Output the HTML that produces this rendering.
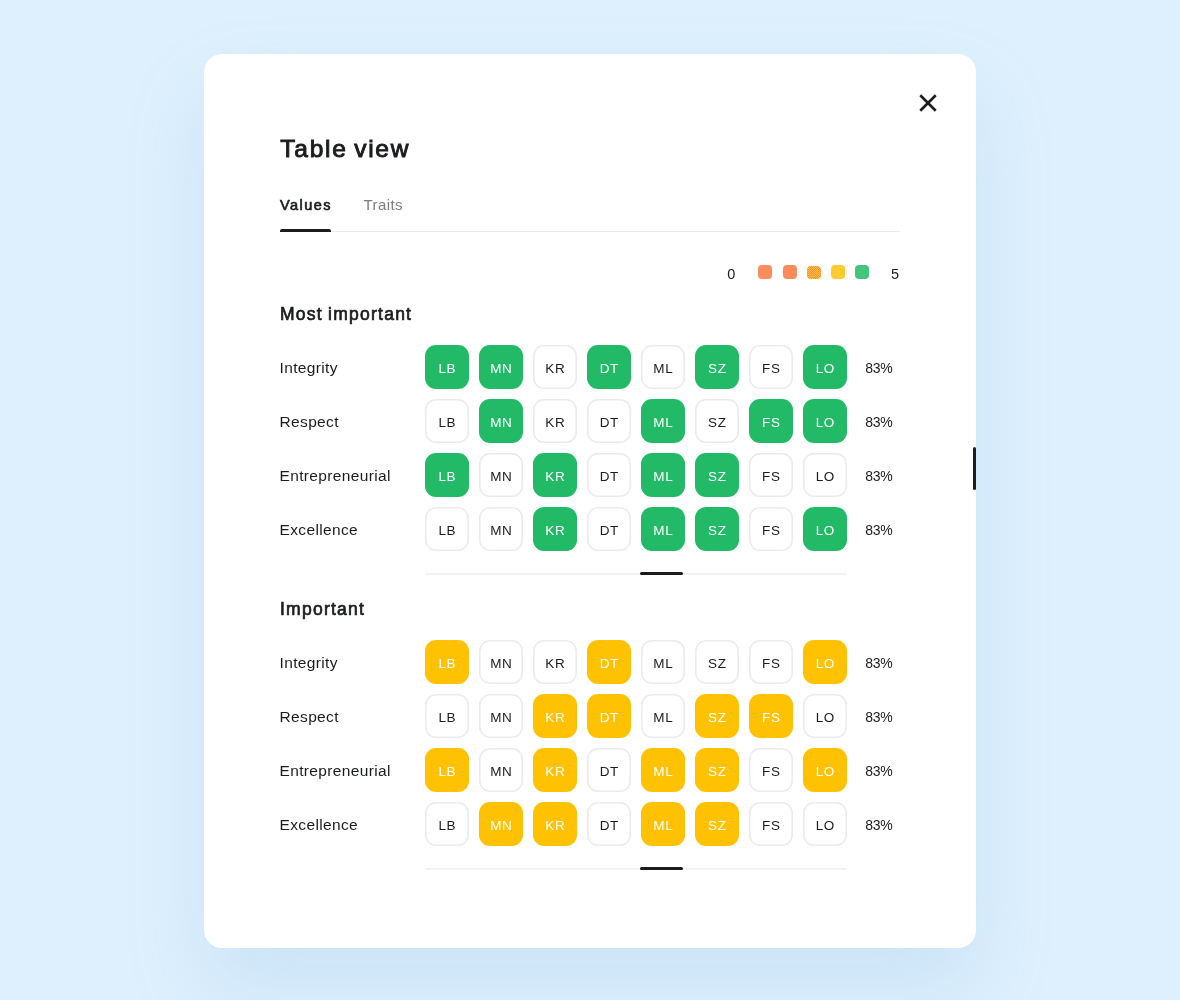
<!DOCTYPE html>
<html><head><meta charset="utf-8"><title>Table view</title>
<style>
*{box-sizing:border-box;margin:0;padding:0}
html,body{width:1180px;height:1000px;overflow:hidden}
body{background:#def0fd;font-family:"Liberation Sans",sans-serif;color:#1b1c1e;position:relative}
.card{position:absolute;left:204px;top:54px;width:772px;height:894px;background:#fff;border-radius:18px;box-shadow:0 40px 80px rgba(104,165,222,.17)}
.abs,.h1,.h2,.lbl,.cell,.pct,.sline,.sthumb,.tab,.lg,.sq{position:absolute}
.h1{left:280.3px;top:130.5px;font-size:24.5px;font-weight:400;-webkit-text-stroke:.95px #1b1c1e;line-height:36px;letter-spacing:1.75px;word-spacing:-2px;white-space:nowrap}
.tab{top:194.7px;font-size:15px;line-height:20px;white-space:nowrap}
.tab.a{left:280px;font-size:14.5px;font-weight:400;-webkit-text-stroke:.65px #1b1c1e;letter-spacing:1.45px}
.tab.b{left:363.5px;top:194.5px;color:#7d7d7d;letter-spacing:.4px}
.tline{position:absolute;left:280px;top:231px;width:620px;height:1px;background:#ebebeb}
.tund{position:absolute;left:280px;top:229px;width:51px;height:3px;background:#1b1c1e;border-radius:2px 2px 0 0}
.h2{left:280px;font-size:17.5px;font-weight:400;-webkit-text-stroke:.7px #1b1c1e;line-height:24px;white-space:nowrap;letter-spacing:1.25px;word-spacing:-1px}
.lbl{left:279.5px;font-size:15.5px;line-height:24px;white-space:nowrap;letter-spacing:.36px}
.cell{width:44px;height:44px;border-radius:11px;font-size:13.5px;line-height:47.2px;text-align:center;letter-spacing:.55px;padding:0 0 0 .55px}
.cell.off{box-shadow:inset 0 0 0 1.6px #ebebeb;color:#1b1c1e;background:#fff}
.cell.g{background:#22ba67;color:#fff}
.cell.y{background:#ffc203;color:#fff}
.pct{left:865.3px;font-size:14px;line-height:24px;letter-spacing:-.3px}
.sline{left:425px;width:422px;height:2px;background:#f2f2f2}
.sthumb{left:640px;width:43px;height:3px;background:#1b1c1e;border-radius:2px}
.lg{top:264.7px;font-size:14.5px;line-height:18px}
.sq{top:265px;width:14px;height:14px;border-radius:4px}
.vbar{position:absolute;left:973.2px;top:447px;width:3px;height:43px;background:#1b1c1e;border-radius:1.5px}
.wrap{position:absolute;left:0;top:0;width:1180px;height:1000px;will-change:transform}
</style></head><body>
<div class="card"></div>
<div class="wrap">
<svg class="abs" style="left:917.6px;top:92.6px" width="20" height="20" viewBox="0 0 20 20"><path d="M2.27 2.27 L17.73 17.73 M17.73 2.27 L2.27 17.73" stroke="#1b1c1e" stroke-width="2.6" stroke-linecap="butt" fill="none"/></svg>
<div class="h1">Table view</div>
<div class="tab a">Values</div><div class="tab b">Traits</div>
<div class="tline"></div><div class="tund"></div>
<div class="lg" style="left:727.3px">0</div>
<div class="sq" style="left:758px;background:#fa8c5c"></div>
<div class="sq" style="left:782.5px;background:#fa8c5c"></div>
<div class="sq" style="left:807px;top:265.5px;width:13.5px;height:13.5px;background-color:#fa8a52;background-image:conic-gradient(#ffc820 25%,#fa8a52 0 50%,#ffc820 0 75%,#fa8a52 0);background-size:2px 2px"></div>
<div class="sq" style="left:831px;background:#ffcb30"></div>
<div class="sq" style="left:855px;background:#45c47e"></div>
<div class="lg" style="left:890.9px">5</div>
<div class="h2" style="top:302px">Most important</div>
<div class="lbl" style="top:356.3px">Integrity</div>
<div class="cell g" style="left:425px;top:345px">LB</div>
<div class="cell g" style="left:479px;top:345px">MN</div>
<div class="cell off" style="left:533px;top:345px">KR</div>
<div class="cell g" style="left:587px;top:345px">DT</div>
<div class="cell off" style="left:641px;top:345px">ML</div>
<div class="cell g" style="left:695px;top:345px">SZ</div>
<div class="cell off" style="left:749px;top:345px">FS</div>
<div class="cell g" style="left:803px;top:345px">LO</div>
<div class="pct" style="top:356px">83%</div>
<div class="lbl" style="top:410.3px">Respect</div>
<div class="cell off" style="left:425px;top:399px">LB</div>
<div class="cell g" style="left:479px;top:399px">MN</div>
<div class="cell off" style="left:533px;top:399px">KR</div>
<div class="cell off" style="left:587px;top:399px">DT</div>
<div class="cell g" style="left:641px;top:399px">ML</div>
<div class="cell off" style="left:695px;top:399px">SZ</div>
<div class="cell g" style="left:749px;top:399px">FS</div>
<div class="cell g" style="left:803px;top:399px">LO</div>
<div class="pct" style="top:410px">83%</div>
<div class="lbl" style="top:464.3px">Entrepreneurial</div>
<div class="cell g" style="left:425px;top:453px">LB</div>
<div class="cell off" style="left:479px;top:453px">MN</div>
<div class="cell g" style="left:533px;top:453px">KR</div>
<div class="cell off" style="left:587px;top:453px">DT</div>
<div class="cell g" style="left:641px;top:453px">ML</div>
<div class="cell g" style="left:695px;top:453px">SZ</div>
<div class="cell off" style="left:749px;top:453px">FS</div>
<div class="cell off" style="left:803px;top:453px">LO</div>
<div class="pct" style="top:464px">83%</div>
<div class="lbl" style="top:518.3px">Excellence</div>
<div class="cell off" style="left:425px;top:507px">LB</div>
<div class="cell off" style="left:479px;top:507px">MN</div>
<div class="cell g" style="left:533px;top:507px">KR</div>
<div class="cell off" style="left:587px;top:507px">DT</div>
<div class="cell g" style="left:641px;top:507px">ML</div>
<div class="cell g" style="left:695px;top:507px">SZ</div>
<div class="cell off" style="left:749px;top:507px">FS</div>
<div class="cell g" style="left:803px;top:507px">LO</div>
<div class="pct" style="top:518px">83%</div>
<div class="sline" style="top:572.5px"></div><div class="sthumb" style="top:572.0px"></div>
<div class="h2" style="top:597px">Important</div>
<div class="lbl" style="top:651.3px">Integrity</div>
<div class="cell y" style="left:425px;top:640px">LB</div>
<div class="cell off" style="left:479px;top:640px">MN</div>
<div class="cell off" style="left:533px;top:640px">KR</div>
<div class="cell y" style="left:587px;top:640px">DT</div>
<div class="cell off" style="left:641px;top:640px">ML</div>
<div class="cell off" style="left:695px;top:640px">SZ</div>
<div class="cell off" style="left:749px;top:640px">FS</div>
<div class="cell y" style="left:803px;top:640px">LO</div>
<div class="pct" style="top:651px">83%</div>
<div class="lbl" style="top:705.3px">Respect</div>
<div class="cell off" style="left:425px;top:694px">LB</div>
<div class="cell off" style="left:479px;top:694px">MN</div>
<div class="cell y" style="left:533px;top:694px">KR</div>
<div class="cell y" style="left:587px;top:694px">DT</div>
<div class="cell off" style="left:641px;top:694px">ML</div>
<div class="cell y" style="left:695px;top:694px">SZ</div>
<div class="cell y" style="left:749px;top:694px">FS</div>
<div class="cell off" style="left:803px;top:694px">LO</div>
<div class="pct" style="top:705px">83%</div>
<div class="lbl" style="top:759.3px">Entrepreneurial</div>
<div class="cell y" style="left:425px;top:748px">LB</div>
<div class="cell off" style="left:479px;top:748px">MN</div>
<div class="cell y" style="left:533px;top:748px">KR</div>
<div class="cell off" style="left:587px;top:748px">DT</div>
<div class="cell y" style="left:641px;top:748px">ML</div>
<div class="cell y" style="left:695px;top:748px">SZ</div>
<div class="cell off" style="left:749px;top:748px">FS</div>
<div class="cell y" style="left:803px;top:748px">LO</div>
<div class="pct" style="top:759px">83%</div>
<div class="lbl" style="top:813.3px">Excellence</div>
<div class="cell off" style="left:425px;top:802px">LB</div>
<div class="cell y" style="left:479px;top:802px">MN</div>
<div class="cell y" style="left:533px;top:802px">KR</div>
<div class="cell off" style="left:587px;top:802px">DT</div>
<div class="cell y" style="left:641px;top:802px">ML</div>
<div class="cell y" style="left:695px;top:802px">SZ</div>
<div class="cell off" style="left:749px;top:802px">FS</div>
<div class="cell off" style="left:803px;top:802px">LO</div>
<div class="pct" style="top:813px">83%</div>
<div class="sline" style="top:867.5px"></div><div class="sthumb" style="top:867.0px"></div>
<div class="vbar"></div>
</div>
</body></html>
